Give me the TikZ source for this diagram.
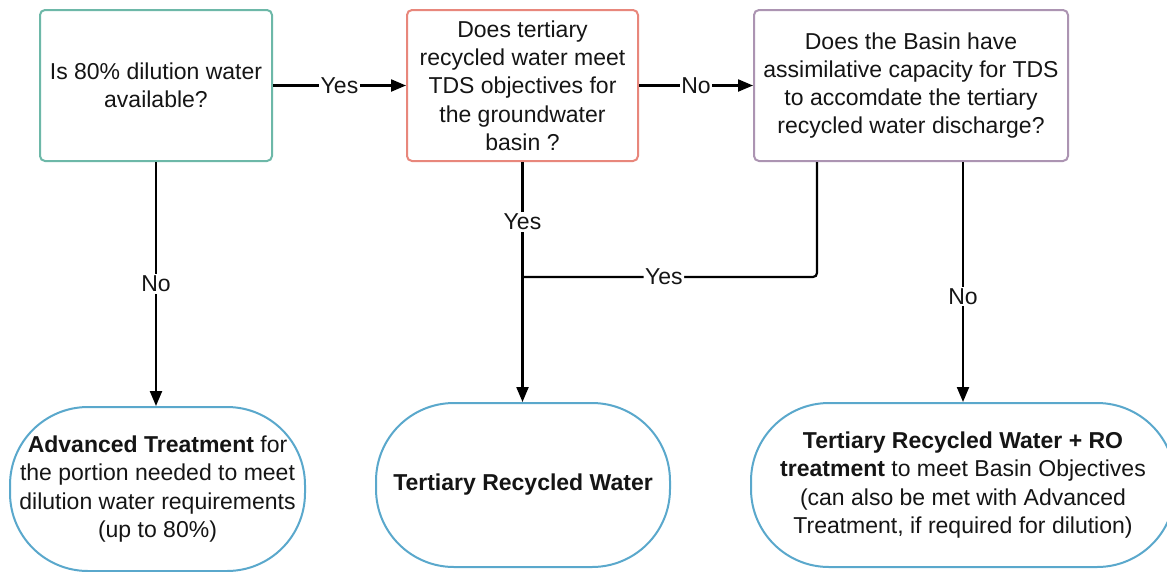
\documentclass[tikz,border=0pt]{standalone}
\usepackage{fontspec}
\setmainfont{Liberation Sans}
\usetikzlibrary{arrows.meta}
\definecolor{tealc}{HTML}{6DB8A8}
\definecolor{salmonc}{HTML}{E8877C}
\definecolor{purplec}{HTML}{AC94B2}
\definecolor{bluec}{HTML}{5AA8CC}
\definecolor{txt}{HTML}{151515}
\begin{document}
\begin{tikzpicture}[x=1pt,y=-1pt,
  every node/.style={font=\fontsize{23}{28.3}\selectfont, text=txt},
  qbox/.style={draw, line width=2pt, rounded corners=5pt, align=center, inner sep=0pt},
  endbox/.style={draw=bluec, line width=2pt, rounded corners=78pt, align=center, inner sep=0pt, minimum height=164pt},
  conn/.style={draw=black, line width=2.2pt},
  arr/.style={conn, -{Triangle[length=15pt,width=12pt]}},
  lbl/.style={fill=white, inner sep=1.5pt}]
\useasboundingbox (0,0) rectangle (1167,571);
\clip (0,0) rectangle (1167,571);
\fill[white] (0,0) rectangle (1167,571);

\node[qbox, draw=tealc, minimum width=232pt, minimum height=151pt] (b1) at (156,85.5)
  {Is 80\% dilution water\\available?};
\node[qbox, draw=salmonc, minimum width=231pt, minimum height=151pt] (b2) at (522.5,85.5)
  {Does tertiary\\recycled water meet\\TDS objectives for\\the groundwater\\basin ?};
\node[qbox, draw=purplec, minimum width=314pt, minimum height=151pt] (b3) at (911,85.5)
  {Does the Basin have\\assimilative capacity for TDS\\to accomdate the tertiary\\recycled water discharge?};

\node[endbox, minimum width=295pt] (b4) at (157.5,489)
  {\textbf{Advanced Treatment} for\\the portion needed to meet\\dilution water requirements\\(up to 80\%)};
\node[endbox, minimum width=294pt] (b5) at (523,485)
  {\textbf{Tertiary Recycled Water}};
\node[endbox, minimum width=424pt] (b6) at (963,485)
  {\textbf{Tertiary Recycled Water + RO}\\\textbf{treatment} to meet Basin Objectives\\(can also be met with Advanced\\Treatment, if required for dilution)};

\draw[arr] (b1.east) -- node[lbl]{Yes} (b2.west);
\draw[arr] (b2.east) -- node[lbl]{No} (b3.west);

\draw[arr] (b1.south) -- node[lbl, pos=0.5]{No} (b1.south |- b4.north);
\draw[arr] (b2.south) -- node[lbl, pos=0.25]{Yes} (b2.south |- b5.north);

\coordinate (j) at (817,277);
\coordinate (m) at (b2.south |- j);
\draw[conn, rounded corners=4pt] (b3.south -| j) -- (j) -- node[lbl, pos=0.52]{Yes} (m);

\draw[arr] (b6.north |- b3.south) -- node[lbl, pos=0.56]{No} (b6.north);
\end{tikzpicture}
\end{document}
